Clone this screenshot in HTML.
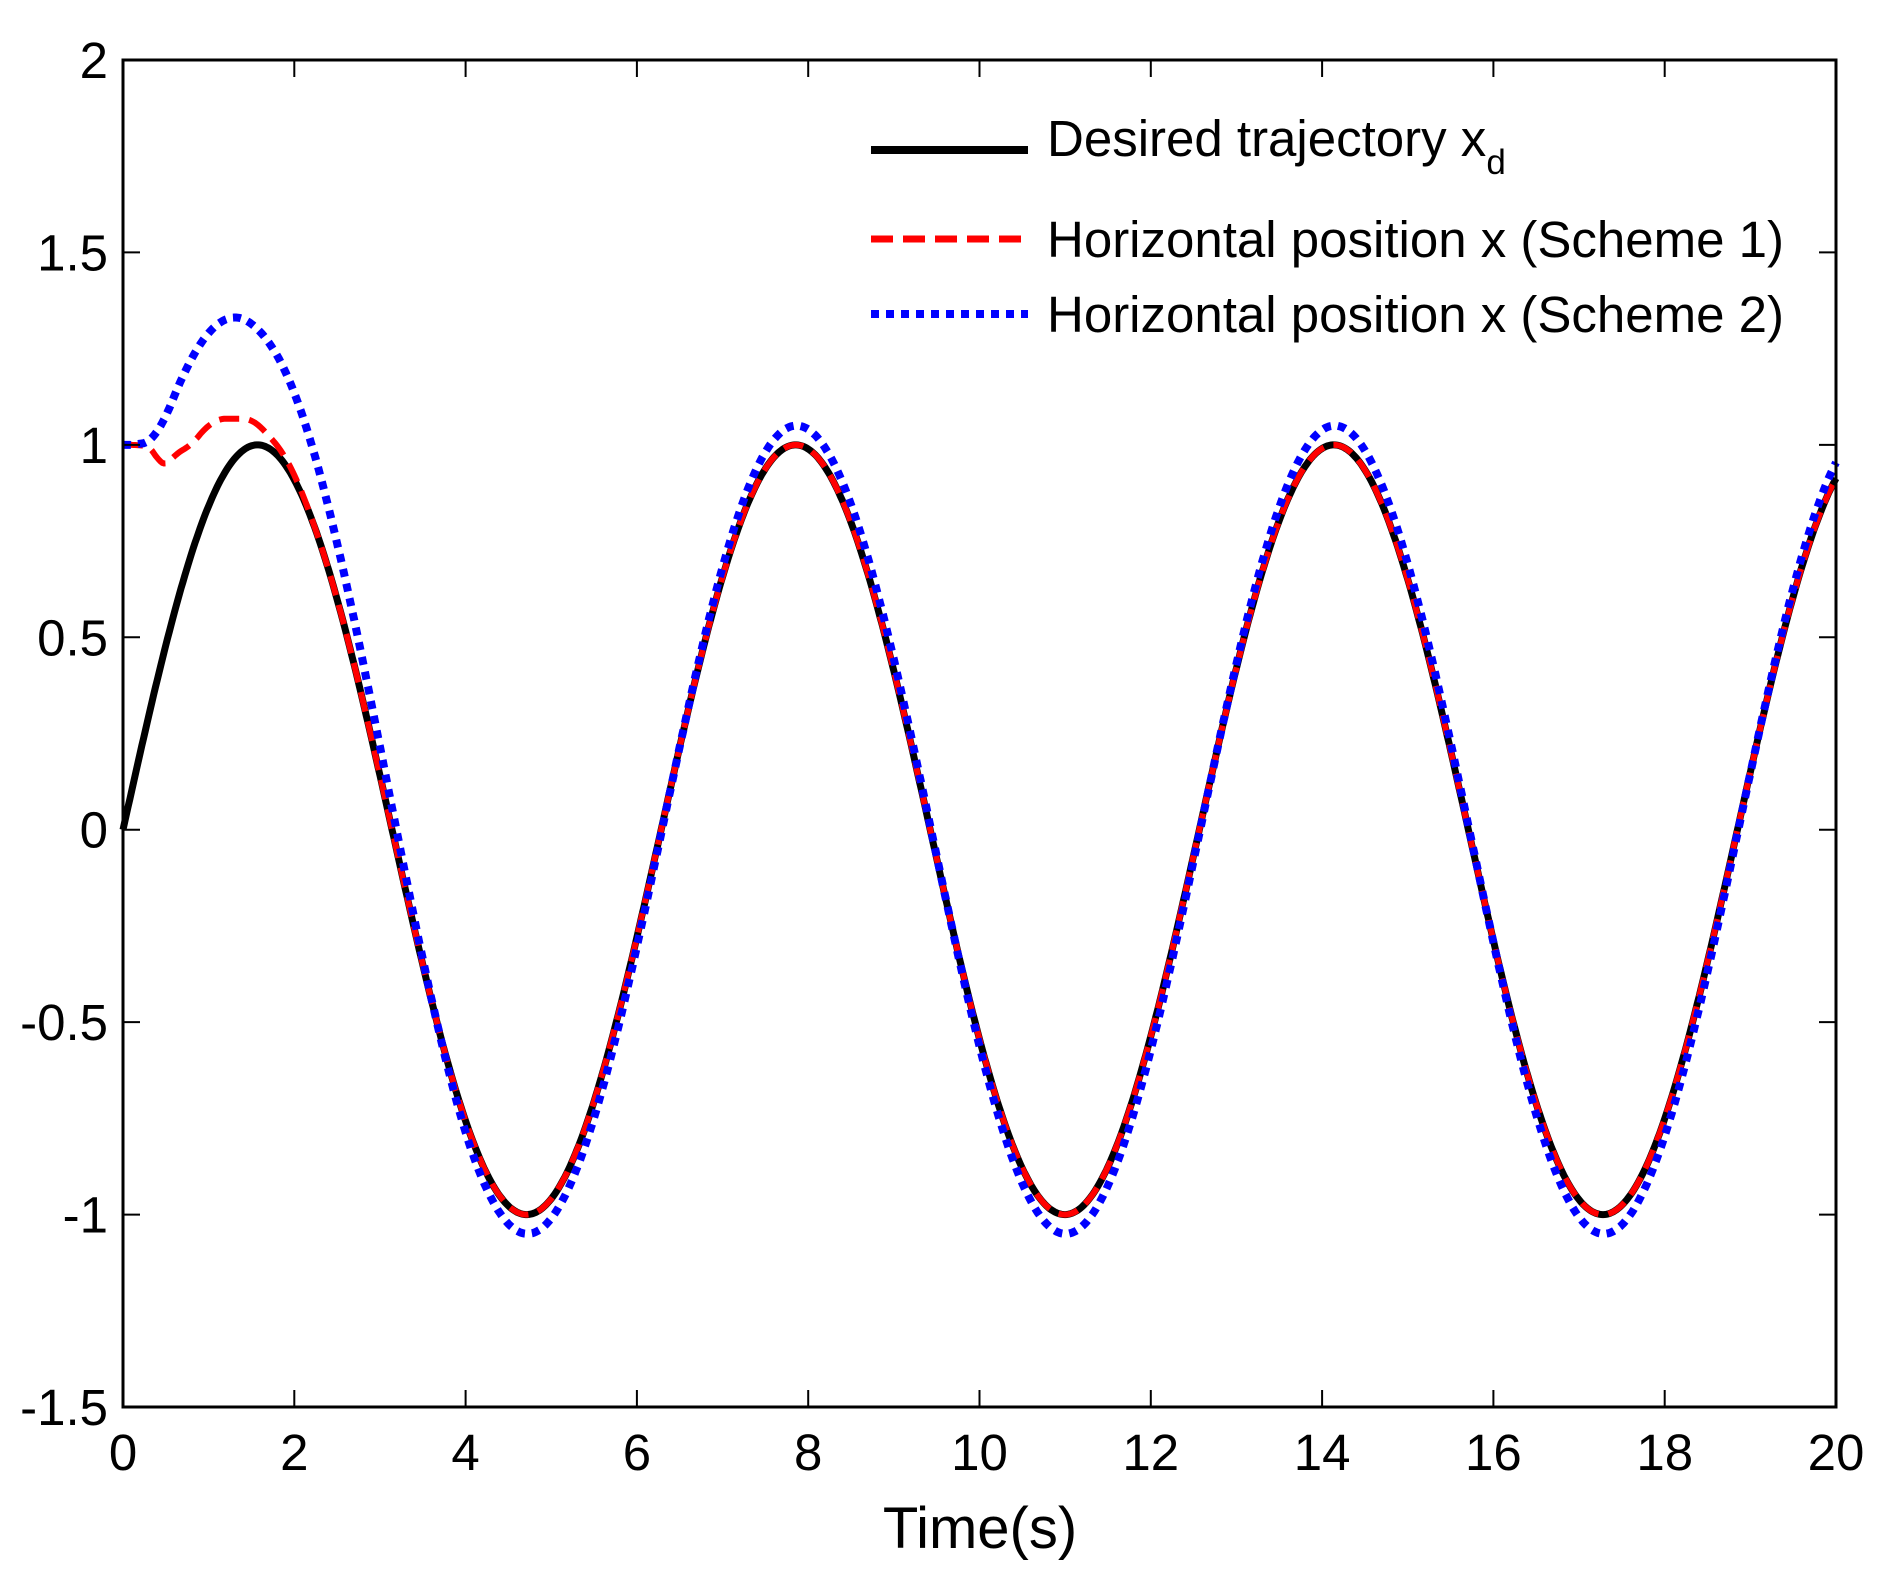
<!DOCTYPE html>
<html><head><meta charset="utf-8"><style>
html,body{margin:0;padding:0;background:#fff;}
svg{display:block;font-family:"Liberation Sans",Arial,sans-serif;}
</style></head><body>
<svg id="s" width="1892" height="1581" xmlns="http://www.w3.org/2000/svg">
<rect width="1892" height="1581" fill="#fff"/>
<g id="curves"></g>
<rect x="123" y="60" width="1713" height="1347" fill="none" stroke="#000" stroke-width="3"/>
<g id="ticks" stroke="#000" stroke-width="2"></g>
<g id="labels" font-size="51" fill="#000"></g>
<text x="980" y="1548" font-size="58" text-anchor="middle">Time(s)</text>
<g font-size="51">
<line x1="871" y1="150" x2="1028" y2="150" stroke="#000" stroke-width="8"/>
<text x="1047" y="156">Desired trajectory x<tspan font-size="35" dy="18">d</tspan></text>
<line x1="871" y1="239" x2="1028" y2="239" stroke="#f00" stroke-width="7" stroke-dasharray="22 10"/>
<text x="1047" y="257">Horizontal position x (Scheme 1)</text>
<line x1="871" y1="314" x2="1028" y2="314" stroke="#00f" stroke-width="8" stroke-dasharray="8 7"/>
<text x="1047" y="332">Horizontal position x (Scheme 2)</text>
</g>
</svg>
<script>
var X=t=>123+t*85.65, Y=v=>60+(2-v)*384.86;
var ns="http://www.w3.org/2000/svg";
function el(n,a,p){var e=document.createElementNS(ns,n);for(var k in a)e.setAttribute(k,a[k]);p.appendChild(e);return e;}
var tk=document.getElementById('ticks'),lb=document.getElementById('labels');
for(var i=0;i<=10;i++){var x=X(i*2);
 if(i>0&&i<10){el('line',{x1:x,y1:1407,x2:x,y2:1390},tk);el('line',{x1:x,y1:60,x2:x,y2:77},tk);}
 var t=el('text',{x:x,y:1470,'text-anchor':'middle'},lb);t.textContent=i*2;}
for(var j=0;j<=7;j++){var v=2-j*0.5,y=Y(v);
 if(j>0&&j<7){el('line',{x1:123,y1:y,x2:140,y2:y},tk);el('line',{x1:1836,y1:y,x2:1819,y2:y},tk);}
 var t=el('text',{x:108,y:y+18,'text-anchor':'end'},lb);t.textContent=(v==0?'0':String(v));}
function lin(tb,t){if(t>=tb[tb.length-1][0])return tb[tb.length-1][1];for(var i=1;i<tb.length;i++){if(t<=tb[i][0]){var a=tb[i-1],b=tb[i],u=(t-a[0])/(b[0]-a[0]);return a[1]+(b[1]-a[1])*u;}}}
var e1=[[0,1],[0.2,0.8],[0.35,0.65],[0.45,0.5],[0.8,0.28],[1.3,0.1],[1.7,0.03],[2.2,0],[20,0]];
var e2=[[0,1],[0.2,0.8],[0.4,0.62],[0.8,0.5],[1.2,0.38],[1.6,0.27],[2.0,0.2],[2.5,0.12],[3,0.06],[3.5,0.02],[4,0],[20,0]];
var dt=0.02,N=1001;
function series(f,sm){var v=[];for(var i=0;i<N;i++)v.push(f(i*dt));if(sm){var o=[];for(var i=0;i<N;i++){var w=Math.min(sm,i,N-1-i),s=0,c=0;for(var k=-w;k<=w;k++){s+=v[i+k];c++;}o.push(s/c);}v=o;}return v;}
function path(v){var d='';for(var i=0;i<N;i++){d+=(i?'L':'M')+X(i*dt).toFixed(1)+' '+Y(v[i]).toFixed(1);}return d;}
var g=document.getElementById('curves');
var s1=series(t=>lin(e1,t),4), s2=series(t=>lin(e2,t),8);
var r1=s1.map((e,i)=>Math.sin(i*dt)+e);
var r2=s2.map((e,i)=>{var t=i*dt,w=Math.min(1,t/4);return (1+0.05*w)*Math.sin(t-0.01*w)+e;});
el('path',{d:path(series(t=>Math.sin(t))),fill:'none',stroke:'#000','stroke-width':7},g);
el('path',{d:path(r1),fill:'none',stroke:'#f00','stroke-width':6,'stroke-dasharray':'20 10'},g);
el('path',{d:path(r2),fill:'none',stroke:'#00f','stroke-width':8,'stroke-dasharray':'8 7'},g);
</script>
</body></html>
